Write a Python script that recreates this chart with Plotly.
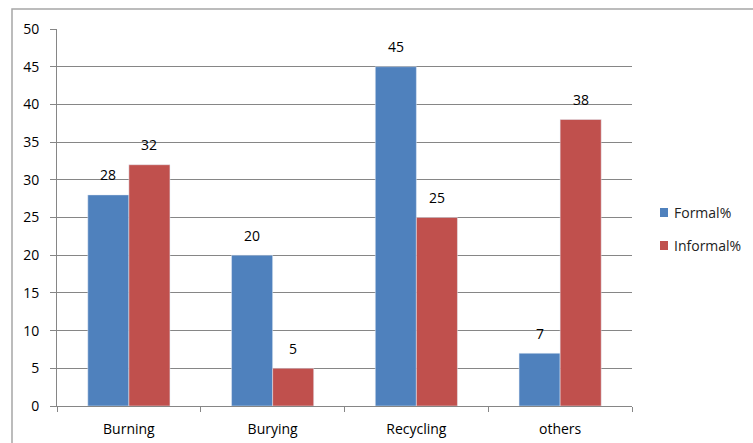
import plotly.graph_objects as go

categories = ["Burning", "Burying", "Recycling", "others"]
formal = [28, 20, 45, 7]
informal = [32, 5, 25, 38]
series_names = ["Formal%", "Informal%"]
y_ticks = [0, 5, 10, 15, 20, 25, 30, 35, 40, 45, 50]
colors = ["#4F81BD", "#C0504D"]

W, H = 753, 443
L, R, T, B = 57, 632, 29, 406
FAM = "Open Sans, Liberation Sans, sans-serif"
font = dict(family=FAM, size=14, color="#000000")

fig = go.Figure()
for name, vals, col in zip(series_names, (formal, informal), colors):
    fig.add_bar(x=categories, y=vals, name=name, marker_color=col, showlegend=False)

pw, ph = R - L, B - T
def px(x): return (x - L) / pw
def py(y): return (B - y) / ph

bar_px = pw / len(categories) / 3.5
annotations = []
for vals, sgn in ((formal, -1), (informal, 1)):
    for c, v in zip(categories, vals):
        annotations.append(dict(x=c, y=v, xref="x", yref="y", text=str(v), showarrow=False,
                                xshift=sgn * bar_px / 2, yshift=20, font=font))

shapes = [dict(type="rect", xref="paper", yref="paper",
               x0=px(12), x1=px(900), y0=py(9), y1=py(600),
               line=dict(color="#A6A6A6", width=1.5), fillcolor="rgba(0,0,0,0)", layer="below")]

# custom legend
for i, (name, col) in enumerate(zip(series_names, colors)):
    yc = 212.5 + i * 33
    shapes.append(dict(type="rect", xref="paper", yref="paper",
                       x0=px(660), x1=px(668), y0=py(yc + 4.5), y1=py(yc - 4.5),
                       line=dict(width=0), fillcolor=col))
    annotations.append(dict(x=px(672), y=py(yc), xref="paper", yref="paper", text=name,
                            showarrow=False, xanchor="left", yanchor="middle",
                            font=dict(family=FAM, size=14, color="#222222")))

fig.update_layout(
    width=W, height=H,
    margin=dict(l=L, r=W - R, t=T, b=H - B, pad=0),
    paper_bgcolor="white", plot_bgcolor="white",
    barmode="group", bargap=1.5 / 3.5, bargroupgap=0,
    font=font,
    showlegend=False,
    xaxis=dict(type="category", showline=True, linecolor="#868686", linewidth=1,
               ticks="outside", tickson="boundaries", ticklen=5, tickcolor="#868686",
               showgrid=False, tickfont=font, fixedrange=True, automargin=False,
               ticklabelstandoff=10),
    yaxis=dict(range=[0, 50], tickvals=y_ticks, showline=True, linecolor="#868686",
               linewidth=1, ticks="outside", ticklen=6, tickcolor="#868686",
               showgrid=True, gridcolor="#868686", gridwidth=1, zeroline=False,
               tickfont=font, ticklabelstandoff=8, automargin=False),
    annotations=annotations,
    shapes=shapes,
)

fig.write_html("out.html")
